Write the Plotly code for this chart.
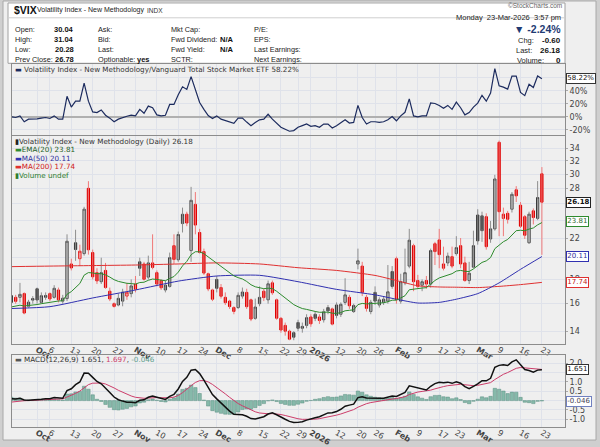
import numpy as np
import pandas as pd
import plotly.graph_objects as go

W, H = 600, 447

# ---- calendar (trading days, Sep 23 2025 -> Mar 23 2026)
holidays = ["2025-11-27", "2025-12-25", "2026-01-01", "2026-01-19", "2026-02-16"]
days = pd.bdate_range("2025-09-23", "2026-03-23")
days = days[~days.isin(pd.to_datetime(holidays))]
pos = {d.strftime("%Y-%m-%d"): i for i, d in enumerate(days)}

# ---- daily candles
opens = [16.10, 16.50, 16.50, 16.80, 15.80, 16.40, 17.20, 16.10, 16.50, 16.80,
         16.50, 17.10, 16.20, 16.40, 19.40, 21.50, 19.90, 20.40, 28.00, 20.50,
         18.60, 17.80, 18.80, 17.00, 16.00, 15.90, 16.20, 16.60, 16.80, 17.60,
         19.60, 19.40, 18.20, 19.50, 18.60, 17.90, 17.10, 17.40, 21.20, 19.80,
         23.60, 24.70, 20.70, 25.90, 22.60, 20.60, 18.50, 17.10, 18.00, 17.30,
         16.50, 16.20, 15.70, 15.70, 16.60, 16.90, 16.30, 14.90, 16.00, 17.00,
         16.30, 17.70, 16.30, 14.90, 14.40, 14.00, 13.90, 14.60, 14.20, 14.40,
         15.00, 15.20, 15.00, 14.80, 15.70, 15.60, 15.90, 15.20, 16.10, 16.50,
         15.40, 19.40, 19.20, 16.50, 15.40, 16.90, 15.90, 16.10, 16.20, 18.70,
         19.90, 16.20, 17.70, 19.20, 21.20, 17.90, 17.50, 17.90, 17.60, 21.40,
         21.80, 19.00, 19.50, 20.10, 20.40, 21.20, 19.50, 17.90, 19.10, 24.60,
         24.50, 24.40, 21.90, 23.00, 35.00, 24.20, 24.80, 25.30, 27.80, 25.80,
         24.40, 21.50, 25.10, 24.20, 30.04]
highs = [16.90, 16.70, 17.70, 16.90, 16.30, 16.60, 17.30, 16.90, 16.90, 16.90,
         17.50, 17.30, 16.70, 22.40, 19.90, 22.90, 21.30, 25.60, 28.99, 20.80,
         19.00, 20.00, 19.50, 17.30, 16.10, 16.80, 17.20, 17.70, 18.00, 18.30,
         20.00, 19.60, 20.20, 22.40, 18.80, 18.00, 17.90, 20.50, 22.40, 22.70,
         25.50, 25.00, 28.20, 27.50, 23.00, 20.90, 18.60, 17.20, 18.30, 17.60,
         16.90, 16.30, 15.80, 16.90, 17.30, 17.20, 16.40, 16.40, 17.40, 17.20,
         17.90, 17.90, 16.40, 15.00, 14.60, 14.10, 14.00, 14.80, 14.60, 15.20,
         15.20, 15.40, 15.20, 15.60, 15.90, 15.70, 16.10, 16.10, 18.10, 16.70,
         16.00, 20.90, 19.60, 16.70, 16.30, 17.40, 16.50, 16.60, 19.30, 19.20,
         20.10, 18.50, 20.90, 23.00, 21.40, 18.40, 18.00, 18.30, 20.90, 21.60,
         23.00, 21.10, 20.50, 21.10, 22.20, 22.00, 20.10, 19.60, 22.80, 25.30,
         25.00, 24.80, 23.90, 29.90, 35.30, 25.50, 25.10, 27.50, 28.30, 26.20,
         24.60, 25.00, 25.40, 29.00, 31.04]
lows = [16.00, 16.00, 16.10, 15.20, 15.70, 16.00, 16.00, 16.00, 16.30, 16.20,
        16.40, 16.10, 16.00, 16.20, 18.80, 19.70, 19.20, 20.20, 20.30, 18.00,
        17.60, 17.60, 17.20, 16.20, 15.70, 15.80, 15.80, 16.30, 16.50, 16.90,
        18.30, 17.90, 18.00, 18.90, 17.40, 17.10, 16.90, 17.30, 19.40, 19.60,
        22.60, 23.30, 19.60, 22.40, 20.40, 18.40, 17.00, 16.20, 16.90, 16.40,
        15.90, 15.60, 15.20, 15.60, 16.40, 15.60, 14.70, 14.80, 15.80, 16.20,
        16.00, 16.70, 14.80, 13.90, 13.70, 13.40, 13.40, 14.00, 13.90, 14.20,
        14.30, 14.70, 14.50, 14.60, 15.20, 14.40, 14.90, 15.00, 15.90, 15.60,
        15.30, 18.90, 16.60, 15.40, 15.20, 15.90, 15.70, 15.90, 16.00, 17.20,
        16.00, 16.00, 17.50, 19.00, 17.00, 17.20, 17.00, 17.20, 17.30, 19.30,
        19.00, 18.80, 19.20, 19.00, 20.20, 19.00, 17.80, 17.60, 19.00, 21.30,
        21.60, 20.80, 21.50, 22.80, 22.20, 22.20, 23.60, 24.90, 26.20, 23.10,
        21.90, 21.40, 23.50, 24.00, 20.28]
closes = [16.64, 16.18, 16.74, 15.29, 16.12, 16.28, 16.29, 16.63, 16.65, 16.37,
          17.24, 16.30, 16.43, 21.66, 19.03, 20.81, 20.64, 25.31, 20.78, 18.23,
          17.87, 18.60, 17.30, 16.37, 15.79, 16.42, 16.92, 16.91, 17.44, 17.17,
          19.00, 18.01, 19.50, 19.08, 17.60, 17.28, 17.51, 20.00, 19.83, 22.38,
          24.69, 23.66, 26.42, 23.43, 20.52, 18.56, 17.19, 16.35, 17.24, 16.59,
          16.08, 15.78, 15.41, 16.66, 16.93, 15.77, 14.85, 15.74, 16.50, 16.48,
          17.62, 16.87, 14.91, 14.08, 14.00, 13.47, 13.60, 14.20, 14.33, 14.95,
          14.51, 14.90, 14.75, 15.38, 15.45, 14.49, 15.12, 15.95, 16.70, 15.84,
          15.86, 19.70, 16.90, 15.64, 16.10, 16.20, 16.30, 16.35, 16.95, 17.40,
          16.31, 17.80, 18.60, 21.77, 17.80, 17.40, 17.80, 17.60, 20.70, 20.60,
          20.30, 19.40, 20.15, 19.20, 21.00, 19.40, 17.90, 18.55, 21.20, 21.70,
          22.80, 21.10, 23.00, 29.30, 25.00, 24.70, 24.10, 27.20, 27.00, 23.30,
          22.30, 24.70, 24.30, 26.78, 26.18]

# VIX:VTI ratio, % change since first day
ratio_pct = [0, -1, 1.5, -7.5, -3.5, -3.5, -3, -2, -1, -2.5,
             1.5, -3.5, -3.5, 31.5, 15, 24, 24, 51.5, 24, 7.5,
             6.5, 10.5, 2.5, -2, -7.5, -3.5, -1, 1, 2.5, 1.5,
             11.5, 5.5, 16.5, 14, 3, 1.5, 2.5, 19, 19, 34,
             46, 42, 61.5, 40, 22, 11.5, 2, -2.5, 1.5, -3.5,
             -6, -8.5, -10, -2, -2, -8, -13.5, -8.5, -4.5, -3.5,
             4, -3.5, -10, -16, -19, -22, -21, -16, -13.5, -11,
             -14.5, -13.5, -16, -11, -11, -17, -13.5, -8.5, -4.5, -9.5,
             -8.5, 17.5, -1, -11, -7.5, -7.5, -8.5, -7.5, -4.5, 0.5,
             -6, 1.5, 7, 27.5, 1.5, 0, 1.5, 1.5, 21.5, 20.5,
             17.5, 13, 17.5, 11.5, 22.5, 14, 3, 6.5, 15, 21,
             33, 24, 36.5, 74, 47.5, 45.5, 42.5, 62.5, 62.5, 37.5,
             32.5, 50, 45, 62.5, 58.22]

# moving averages need history before the window ->
ma_dates = ["2025-09-23", "2025-10-06", "2025-10-20", "2025-11-03", "2025-11-17",
            "2025-12-01", "2025-12-15", "2025-12-29", "2026-01-12", "2026-01-26",
            "2026-02-02", "2026-02-09", "2026-02-17", "2026-02-23", "2026-03-02",
            "2026-03-09", "2026-03-16", "2026-03-23"]
ma50 = [15.63, 15.77, 16.45, 17.1, 17.85, 18.3, 18.36, 17.8, 17.15, 16.7,
        16.35, 16.05, 16.1, 16.35, 16.8, 17.7, 18.9, 20.11]
ma200 = [19.15, 19.2, 19.25, 19.3, 19.4, 19.5, 19.4, 19.05, 18.8, 18.35,
         17.9, 17.45, 17.35, 17.33, 17.3, 17.4, 17.55, 17.74]

# starting states of the EMAs as seen at the left edge
ema20_start = 15.75
fast_start, slow_start, signal_start = 16.25, 16.15, -0.08

tick_dates = ["2025-10-01", "2025-10-06", "2025-10-13", "2025-10-20", "2025-10-27",
              "2025-11-03", "2025-11-10", "2025-11-17", "2025-11-24", "2025-12-01",
              "2025-12-08", "2025-12-15", "2025-12-22", "2025-12-29", "2026-01-02",
              "2026-01-12", "2026-01-20", "2026-01-26", "2026-02-02", "2026-02-09",
              "2026-02-17", "2026-02-23", "2026-03-02", "2026-03-09", "2026-03-16",
              "2026-03-23"]
tick_labels = ["<b>Oct</b>", "6", "13", "20", "27", "<b>Nov</b>", "10", "17", "24",
               "<b>Dec</b>", "8", "15", "22", "29", "<b>2026</b>", "12", "20", "26",
               "<b>Feb</b>", "9", "17", "23", "<b>Mar</b>", "9", "16", "23"]


def ema(values, span, start):
    k = 2.0 / (span + 1)
    out = [start]
    for v in values[1:]:
        out.append(out[-1] + k * (v - out[-1]))
    return np.array(out)


n = len(closes)
idx = np.arange(n)
c = np.array(closes)
ema20 = ema(closes, 20, ema20_start)
macd = ema(closes, 12, fast_start) - ema(closes, 26, slow_start)
signal = ema(list(macd), 9, signal_start)
hist = macd - signal

prev = np.concatenate([[c[0]], c[:-1]])
up = c >= prev
ma_x = [pos[d] for d in ma_dates]
tick_x = [pos[d] for d in tick_dates]

fig = go.Figure()

# ratio panel
fig.add_trace(go.Scatter(x=idx, y=ratio_pct, mode="lines", line=dict(color="#1c2b5e", width=1.2),
                         xaxis="x", yaxis="y", hoverinfo="skip"))


def wicks(sel):
    xs, ys = [], []
    for i in np.where(sel)[0]:
        xs += [i, i, None]
        ys += [lows[i], highs[i], None]
    return xs, ys


for sel, col in [(up, "#8e8e8e"), (~up, "#f07878")]:
    wx, wy = wicks(sel)
    fig.add_trace(go.Scatter(x=wx, y=wy, mode="lines", line=dict(color=col, width=1),
                             xaxis="x2", yaxis="y2", hoverinfo="skip"))

o = np.array(opens)
body_hi = np.maximum(o, c)
body_lo = np.minimum(o, c)
for sel, edge, fill in [(up, "#3a3a3a", "#111111"), (~up, "#e00000", "#e00000")]:
    s = np.where(sel)[0]
    fig.add_trace(go.Candlestick(
        x=s, open=o[s], high=body_hi[s], low=body_lo[s], close=c[s],
        increasing=dict(line=dict(color=edge, width=1), fillcolor="white"),
        decreasing=dict(line=dict(color=edge, width=1), fillcolor=fill),
        whiskerwidth=0, xaxis="x2", yaxis="y2", hoverinfo="skip"))

fig.add_trace(go.Scatter(x=ma_x, y=ma200, mode="lines", line=dict(color="#e03030", width=1, shape="spline", smoothing=0.6),
                         xaxis="x2", yaxis="y2", hoverinfo="skip"))
fig.add_trace(go.Scatter(x=ma_x, y=ma50, mode="lines", line=dict(color="#3030b0", width=1, shape="spline", smoothing=0.6),
                         xaxis="x2", yaxis="y2", hoverinfo="skip"))
fig.add_trace(go.Scatter(x=idx, y=ema20, mode="lines", line=dict(color="#2e8b2e", width=1),
                         xaxis="x2", yaxis="y2", hoverinfo="skip"))

# MACD panel
fig.add_trace(go.Bar(x=idx, y=hist, marker=dict(color="#86b9aa", line=dict(color="#5a8f80", width=0.5)),
                     xaxis="x3", yaxis="y3", hoverinfo="skip"))
fig.add_trace(go.Scatter(x=idx, y=signal, mode="lines", line=dict(color="#cc3d6a", width=1),
                         xaxis="x3", yaxis="y3", hoverinfo="skip"))
fig.add_trace(go.Scatter(x=idx, y=macd, mode="lines", line=dict(color="#111111", width=1.5),
                         xaxis="x3", yaxis="y3", hoverinfo="skip"))

grid = "#dfe2ea"
tickfont = dict(size=8, color="#444", family="DejaVu Sans")
xr = [0.14, 129.4]
xdom = [12 / W, 565 / W]


def xax(anchor, labels):
    return dict(domain=xdom, range=xr, anchor=anchor, tickmode="array", tickvals=tick_x,
                ticktext=tick_labels, showticklabels=labels, ticks="", showgrid=True,
                gridcolor=grid, zeroline=False, showline=True, mirror=True, linecolor="#8c8c8c",
                tickfont=tickfont, ticklabelstandoff=-3, rangeslider=dict(visible=False),
                fixedrange=True)


def yax(anchor, dom, **kw):
    d = dict(domain=dom, anchor=anchor, side="right", showgrid=True, gridcolor=grid,
             showline=True, mirror=True, linecolor="#8c8c8c", ticks="outside", ticklen=2,
             tickcolor="#aaa", tickfont=tickfont, fixedrange=True)
    d.update(kw)
    return d


# labels that sit under the value boxes are left blank (their gridlines stay)
main_ticks = list(range(14, 35, 2))
main_text = ["" if t in (20, 24, 26) else str(t) for t in main_ticks]
fig.update_layout(
    width=W, height=H, margin=dict(l=0, r=0, t=0, b=0),
    paper_bgcolor="#cfcfcf", plot_bgcolor="#fbfcff", showlegend=False,
    bargap=0.2, boxgap=0.25,
    xaxis=xax("y", False), xaxis2=xax("y2", True), xaxis3=xax("y3", True),
    yaxis=yax("x", [1 - 137 / H, 1 - 65 / H], range=[-28.5, 80.5], tickmode="array",
              tickvals=[-20, 0, 20, 40, 60], ticktext=["-20%", "0%", "20%", "40%", ""],
              zeroline=True, zerolinecolor="#b0b0b0"),
    yaxis2=yax("x2", [1 - 348 / H, 1 - 137.5 / H], type="log",
               range=[np.log10(13.15), np.log10(36.1)], tickmode="array",
               tickvals=main_ticks, ticktext=main_text, zeroline=False),
    yaxis3=yax("x3", [1 - 432 / H, 1 - 359 / H], range=[-1.42, 2.44], tickmode="array",
               tickvals=[-1, -0.5, 0, 0.5, 1, 1.5, 2],
               ticktext=["-1.0", "-0.5", "", "0.5", "1.0", "", "2.0"], zeroline=False),
)

# frame and header box
shapes = [
    dict(type="rect", xref="paper", yref="paper", x0=3 / W, x1=596 / W, y0=1 - 445 / H, y1=1 - 1 / H,
         fillcolor="#efefef", line=dict(color="#a8a8a8", width=1), layer="below"),
    dict(type="rect", xref="paper", yref="paper", x0=8 / W, x1=565 / W, y0=1 - 64 / H, y1=1 - 3 / H,
         fillcolor="white", line=dict(color="#a0a0a0", width=1), layer="below"),
    dict(type="line", xref="paper", yref="paper", x0=8 / W, x1=565 / W, y0=1 - 18 / H, y1=1 - 18 / H,
         line=dict(color="#cfcfcf", width=1), layer="below"),
]
fig.update_layout(shapes=shapes)

notes = []


def note(x, y, text, size=7.5, color="#222", anchor="left", family="Liberation Sans"):
    notes.append(dict(x=x / W, y=1 - y / H, xref="paper", yref="paper", text=text, showarrow=False,
                      xanchor=anchor, yanchor="middle", borderpad=0,
                      font=dict(size=size, color=color, family=family)))


# header
note(13, 10, "<b>$VIX</b>", 10.5, "#111")
note(36, 10.5, "Volatility Index - New Methodology", 7, "#222")
note(146, 10.5, "INDX", 6.5, "#333")
rows = [30, 40, 50, 60]
for y, lab, val in zip(rows, ["Open:", "High:", "Low:", "Prev Close:"], ["30.04", "31.04", "20.28", "26.78"]):
    note(14, y, lab, 7.3)
    note(75, y, "<b>" + val + "</b>", 7.5, "#111", anchor="right")
for y, lab in zip(rows, ["Ask:", "Bid:", "Last:", "Optionable:"]):
    note(97, y, lab, 7.3)
note(136, 60, "<b>yes</b>", 7.5, "#111")
for y, lab in zip(rows, ["Mkt Cap:", "Fwd Dividend:", "Fwd Yield:", "SCTR:"]):
    note(170, y, lab, 7.3)
note(219, 40, "<b>N/A</b>", 7.5, "#111")
note(219, 50, "<b>N/A</b>", 7.5, "#111")
for y, lab in zip(rows, ["P/E:", "EPS:", "Last Earnings:", "Next Earnings:"]):
    note(253, y, lab, 7.3)
note(563, 6, "©StockCharts.com", 6.5, "#666", anchor="right")
note(562, 18, "Monday  23-Mar-2026  3:57 pm", 7.5, "#222", anchor="right")
note(562, 29.5, "<b>▼ -2.24%</b>", 10.5, "#1f3b73", anchor="right")
note(517, 41, "Chg:")
note(562, 41, "<b>-0.60</b>", 8, "#111", anchor="right")
note(515, 51, "Last:")
note(562, 51, "<b>26.18</b>", 8, "#111", anchor="right")
note(516, 61, "Volume:")
note(562, 61, "<b>0</b>", 8, "#111", anchor="right")

# panel legends
lf = "DejaVu Sans"
note(14, 70.5, "<span style='color:#1c2b5e'>▬</span> Volatility Index - New Methodology/Vanguard Total Stock Market ETF 58.22%",
     7.2, "#333", family=lf)
note(14, 143, "<span style='color:#222'>▮</span>Volatility Index - New Methodology (Daily) 26.18", 7.2, "#333", family=lf)
note(14, 151.5, "<span style='color:#2e8b2e'>▬</span>EMA(20) 23.81", 7.2, "#1f5f1f", family=lf)
note(14, 160, "<span style='color:#3030b0'>▬</span>MA(50) 20.11", 7.2, "#3030a0", family=lf)
note(14, 168.5, "<span style='color:#e03030'>▬</span>MA(200) 17.74", 7.2, "#d02020", family=lf)
note(14, 177, "<span style='color:#2e7d2e'>▮</span>Volume undef", 7.2, "#2e7d2e", family=lf)
note(14, 364, "<span style='color:#555'>▬</span> MACD(12,26,9) 1.651, <span style='color:#cc3d6a'>1.697</span>, "
     "<span style='color:#5fa090'>-0.046</span>", 7.2, "#333", family=lf)


def value_box(v, yref, text, border, color):
    notes.append(dict(x=565.5 / W, xref="paper", y=v, yref=yref, text=text, showarrow=False,
                      xanchor="left", yanchor="middle", bgcolor="white", bordercolor=border,
                      borderwidth=1, borderpad=0.3, font=dict(size=7, color=color, family=lf)))


value_box(58.22, "y", "58.22%", "#333", "#111")
value_box(np.log10(closes[-1]), "y2", "<b>26.18</b>", "#222", "#111")
value_box(np.log10(23.81), "y2", "23.81", "#2e8b2e", "#2e6b2e")
value_box(np.log10(20.11), "y2", "20.11", "#3030b0", "#3030a0")
value_box(np.log10(17.74), "y2", "17.74", "#e03030", "#c02020")
value_box(1.651, "y3", "1.651", "#333", "#111")
value_box(-0.046, "y3", "-0.046", "#7080c0", "#445")

fig.update_layout(annotations=notes)
# drop the page's default body margin so the 600x447 figure fills the window exactly
fig.write_html("out.html", config={"displayModeBar": False},
               post_script="document.body.style.margin='0';document.body.style.overflow='hidden';")
